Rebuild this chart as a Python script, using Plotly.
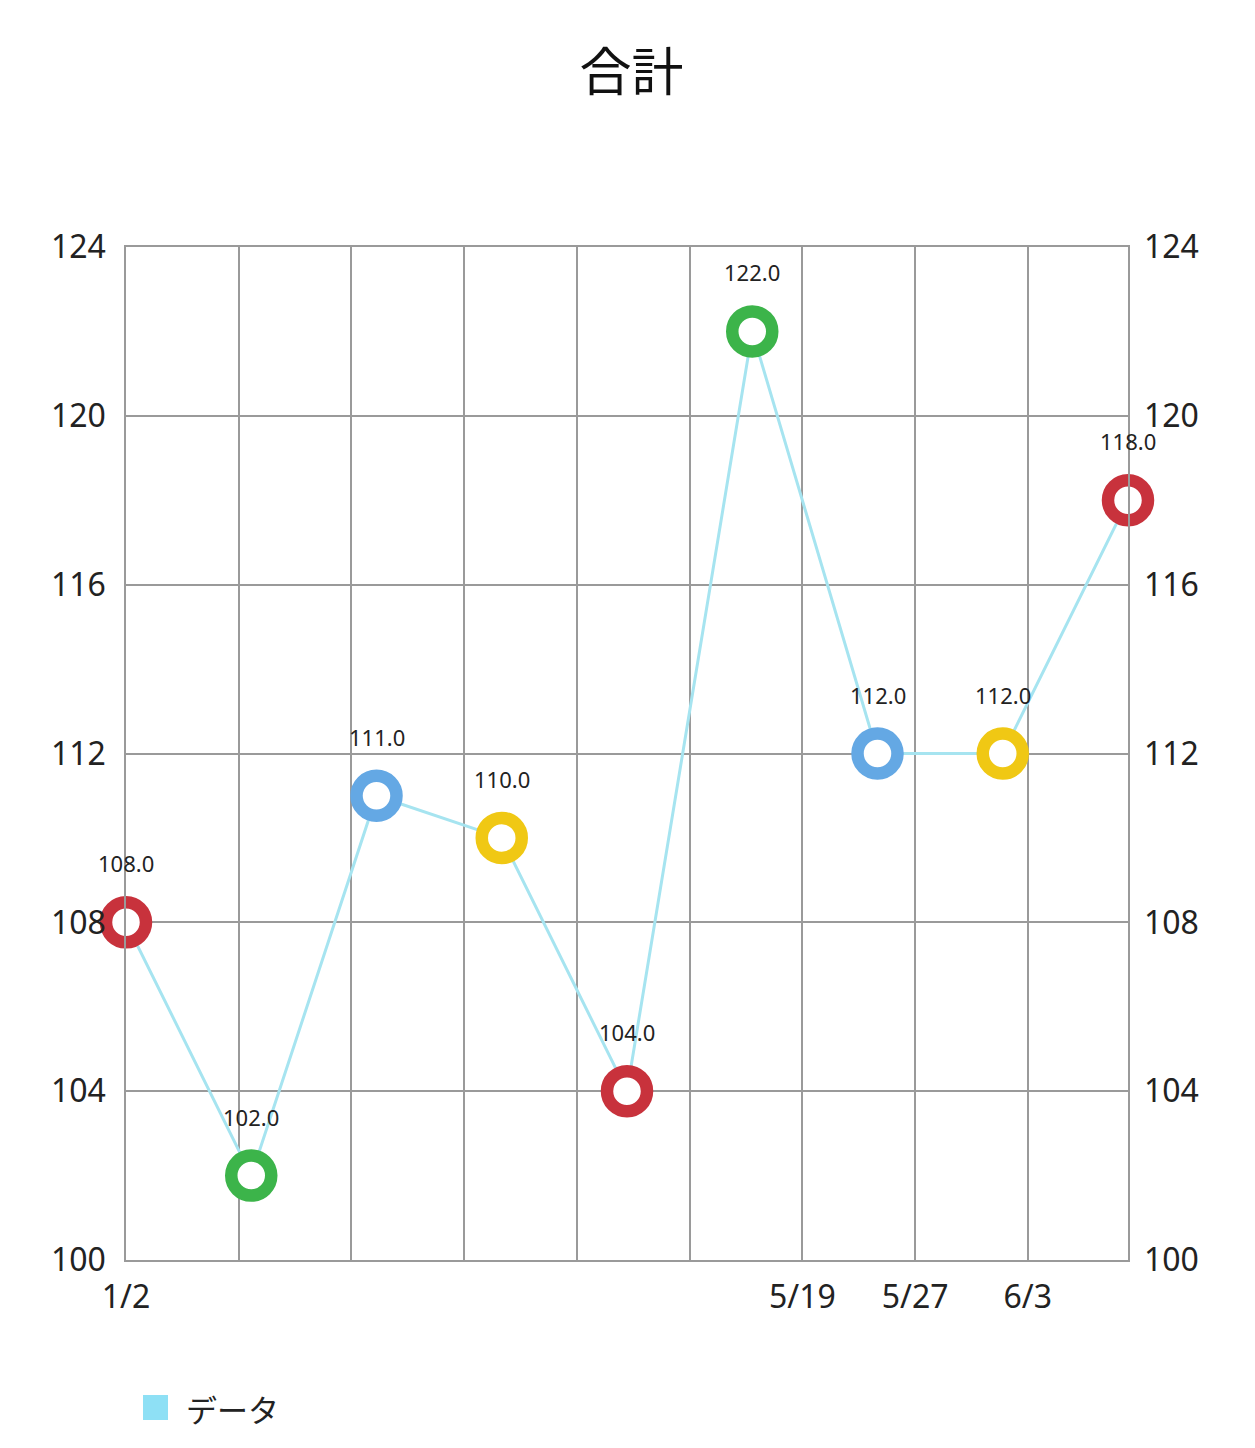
import plotly.graph_objects as go

# data
values = [108, 102, 111, 110, 104, 122, 112, 112, 118]
marker_colors = ["#c8323c", "#3cb44a", "#64a8e4", "#f0c814",
                 "#c8323c", "#3cb44a", "#64a8e4", "#f0c814", "#c8323c"]
x_tick_labels = ["1/2", "", "", "", "", "", "5/19", "5/27", "6/3"]
y_ticks = [100, 104, 108, 112, 116, 120, 124]
series_name = "データ"
title_text = "合計"

xs = list(range(len(values)))
grid_step = 0.9
x_tick_vals = [i * grid_step for i in range(len(x_tick_labels))]

FONT = "Noto Sans, Noto Sans CJK JP, sans-serif"
GRID = "#9a9a9a"

W, H = 1247, 1440
L, R, T, B = 118, 127, 239, 188
PW, PH = W - L - R, H - T - B

fig = go.Figure()
fig.add_trace(go.Scatter(
    x=xs, y=values, mode="lines+markers", name=series_name,
    line=dict(color="#a6e4f0", width=3),
    marker=dict(size=40, color="white", line=dict(color=marker_colors, width=12.5)),
    cliponaxis=False, showlegend=False, hoverinfo="skip",
))
# right axis mirror trace (invisible)
fig.add_trace(go.Scatter(
    x=xs, y=values, mode="lines", line=dict(width=0), opacity=0,
    yaxis="y2", showlegend=False, hoverinfo="skip",
))

for x, v in zip(xs, values):
    fig.add_annotation(x=x, y=v, text=f"{v:.1f}", showarrow=False,
                       yshift=59, font=dict(size=22, color="#222", family=FONT))

# legend (square swatch + label)
def px_x(px):
    return (px - L) / PW

def px_y(py):
    return 1 - (py - T) / PH

fig.add_shape(type="rect", xref="paper", yref="paper",
              x0=px_x(135), x1=px_x(160), y0=px_y(1387), y1=px_y(1412),
              fillcolor="#8ee0f5", line=dict(width=0))
fig.add_annotation(xref="paper", yref="paper", x=px_x(176), y=px_y(1400),
                   xanchor="left", yanchor="middle", showarrow=False, text=series_name,
                   font=dict(size=31, color="#222", family="Noto Sans CJK JP"))

fig.update_layout(
    width=W, height=H,
    margin=dict(l=L, r=R, t=T, b=B),
    paper_bgcolor="white", plot_bgcolor="white",
    showlegend=False,
    title=dict(text=title_text, x=0.5, xanchor="center", y=1 - 65 / H, yanchor="middle",
               font=dict(size=52, color="#111", family="Noto Sans CJK JP")),
    font=dict(family=FONT, color="#222"),
    xaxis=dict(range=[0, 8], tickmode="array", tickvals=x_tick_vals, ticktext=x_tick_labels,
               showgrid=True, gridcolor=GRID, gridwidth=1.5, zeroline=False,
               showline=True, linecolor=GRID, linewidth=1.5, mirror=True,
               ticks="", tickfont=dict(size=32, color="#222"), ticklabelstandoff=8),
    yaxis=dict(range=[100, 124], tickmode="array", tickvals=y_ticks,
               showgrid=True, gridcolor=GRID, gridwidth=1.5, zeroline=False,
               showline=True, linecolor=GRID, linewidth=1.5, mirror=True,
               ticks="", tickfont=dict(size=32, color="#222"), ticklabelstandoff=12),
    yaxis2=dict(range=[100, 124], tickmode="array", tickvals=y_ticks, overlaying="y",
                side="right", showgrid=False, zeroline=False, showline=False,
                ticks="", tickfont=dict(size=32, color="#222"), ticklabelstandoff=15),
)

fig.write_html("out.html")
